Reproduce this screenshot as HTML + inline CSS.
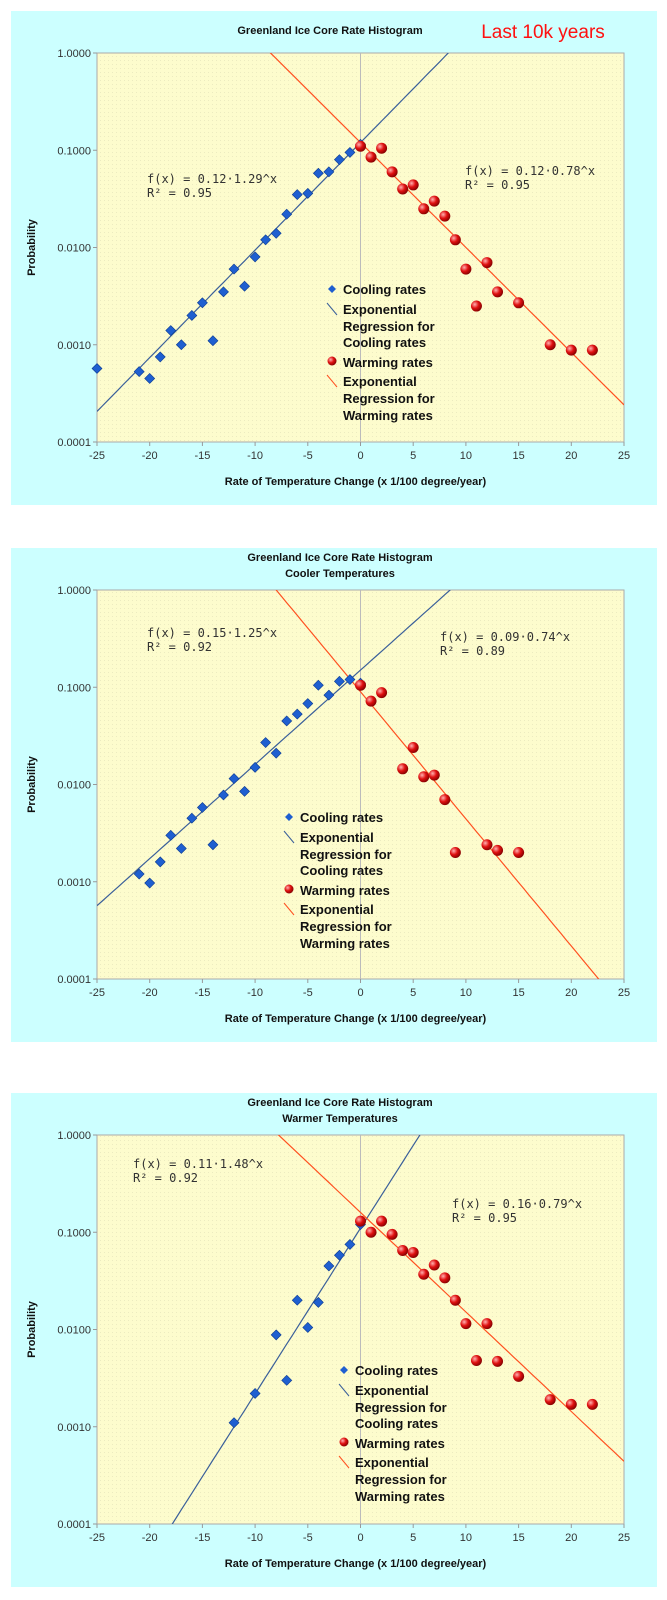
<!DOCTYPE html>
<html><head><meta charset="utf-8">
<style>
body{margin:0;background:#fff;width:667px;height:1600px;overflow:hidden}
svg{display:block}
text{font-family:"Liberation Sans",Arial,sans-serif}
.eq{font-family:"DejaVu Sans Mono","Liberation Mono",monospace;font-size:12px;fill:#333}
.tk{font-size:11px;fill:#333}
.tt{font-size:11px;font-weight:bold;fill:#111}
.lg{font-size:13px;font-weight:bold;fill:#111}
</style></head>
<body>
<svg id="chart" width="667" height="1600" xmlns="http://www.w3.org/2000/svg">
<defs>
<radialGradient id="rg" cx="0.35" cy="0.35" r="0.7"><stop offset="0" stop-color="#ffb0b0"/><stop offset="0.5" stop-color="#e01010"/><stop offset="1" stop-color="#800000"/></radialGradient>
<pattern id="dots" width="4" height="4" patternUnits="userSpaceOnUse"><rect width="4" height="4" fill="#fdfccd"/><rect width="1" height="1" fill="#ecebc0"/></pattern>
</defs>
</svg>
<script>
// Panel 1 data (Last 10k years)
const p1CoolX=[-25,-21,-20,-19,-18,-17,-16,-15,-14,-13,-12,-11,-10,-9,-8,-7,-6,-5,-4,-3,-2,-1,0];
const p1CoolY=[0.00057,0.00053,0.00045,0.00075,0.0014,0.001,0.002,0.0027,0.0011,0.0035,0.006,0.004,0.008,0.012,0.014,0.022,0.035,0.036,0.058,0.06,0.08,0.095,0.115];
const p1WarmX=[0,1,2,3,4,5,6,7,8,9,10,11,12,13,15,18,20,22];
const p1WarmY=[0.11,0.085,0.105,0.06,0.04,0.044,0.025,0.03,0.021,0.012,0.006,0.0025,0.007,0.0035,0.0027,0.001,0.00088,0.00088];
const p1Fit=[0.12,1.29,0.12,0.78];
// Panel 2 data (Cooler temperatures)
const p2CoolX=[-21,-20,-19,-18,-17,-16,-15,-14,-13,-12,-11,-10,-9,-8,-7,-6,-5,-4,-3,-2,-1,0];
const p2CoolY=[0.0012,0.00097,0.0016,0.003,0.0022,0.0045,0.0058,0.0024,0.0078,0.0115,0.0085,0.015,0.027,0.021,0.045,0.053,0.068,0.105,0.083,0.115,0.12,0.11];
const p2WarmX=[0,1,2,4,5,6,7,8,9,12,13,15];
const p2WarmY=[0.105,0.072,0.088,0.0145,0.024,0.012,0.0125,0.007,0.002,0.0024,0.0021,0.002];
const p2Fit=[0.15,1.25,0.09,0.74];
// Panel 3 data (Warmer temperatures)
const p3CoolX=[-12,-10,-8,-7,-6,-5,-4,-3,-2,-1,0];
const p3CoolY=[0.0011,0.0022,0.0088,0.003,0.02,0.0105,0.019,0.045,0.058,0.075,0.12];
const p3WarmX=[0,1,2,3,4,5,6,7,8,9,10,11,12,13,15,18,20,22];
const p3WarmY=[0.13,0.1,0.13,0.095,0.065,0.062,0.037,0.046,0.034,0.02,0.0115,0.0048,0.0115,0.0047,0.0033,0.0019,0.0017,0.0017];
const p3Fit=[0.11,1.48,0.16,0.79];
const xTicks=[-25,-20,-15,-10,-5,0,5,10,15,20,25];
const yTicks=[1,0.1,0.01,0.001,0.0001];
const yTickLabels=["1.0000","0.1000","0.0100","0.0010","0.0001"];

const NS="http://www.w3.org/2000/svg";
const svg=document.getElementById('chart');
function mk(tag,attrs,parent,txt){const e=document.createElementNS(NS,tag);for(const k in attrs)e.setAttribute(k,attrs[k]);if(txt!==undefined)e.textContent=txt;(parent||svg).appendChild(e);return e;}

function panel(o){
  const L=97,R=624,T=o.top+42,B=T+389;
  const xs=v=>L+(v+25)/50*(R-L);
  const ys=p=>T+(-Math.log10(p))/4*(B-T);
  const g=mk('g',{});
  
  
  const bg=mk('rect',{x:11,y:o.top,width:646,height:494,fill:'#ccffff'},g);
  
  
  const pa=mk('rect',{x:L,y:T,width:R-L,height:B-T,fill:'url(#dots)',stroke:'#aaa','stroke-width':1},g);
  
  
  const zl=mk('line',{x1:xs(0),x2:xs(0),y1:T,y2:B,stroke:'#bbb','stroke-width':1},g);
  
  
  // titles
  o.titles.forEach((t,i)=>{
    const e=mk('text',{x:o.titleX,y:o.top+o.titleY+i*16,'text-anchor':'middle',class:'tt'},g,t);
    
    
  });
  // ticks
  xTicks.forEach(v=>{
    mk('line',{x1:xs(v),x2:xs(v),y1:B,y2:B+4,stroke:'#999'},g);
    const e=mk('text',{x:xs(v),y:B+17,'text-anchor':'middle',class:'tk'},g,String(v));
    
    
  });
  yTicks.forEach((v,i)=>{
    mk('line',{x1:L-4,x2:L,y1:ys(v),y2:ys(v),stroke:'#999'},g);
    const e=mk('text',{x:L-6,y:ys(v)+4,'text-anchor':'end',class:'tk'},g,yTickLabels[i]);
    
    
  });
  const xt=mk('text',{x:(L+R)/2-5,y:B+43,'text-anchor':'middle',class:'tt'},g,'Rate of Temperature Change (x 1/100 degree/year)');
  
  
  const yt=mk('text',{x:0,y:0,'text-anchor':'middle',class:'tt',transform:`translate(35,${(T+B)/2}) rotate(-90)`},g,'Probability');
  
  
  // clip
  const cid='clip'+o.top;
  const cp=mk('clipPath',{id:cid},g);mk('rect',{x:L,y:T,width:R-L,height:B-T},cp);
  const fits=[[o.fit[0],o.fit[1],'#3a5f9a','cooling-regression-line'],[o.fit[2],o.fit[3],'#ff5020','warming-regression-line']];
  fits.forEach(f=>{
    let d='';
    for(let x=-25;x<=25.001;x+=0.5){d+=(d?'L':'M')+xs(x).toFixed(1)+','+ys(f[0]*Math.pow(f[1],x)).toFixed(1);}
    const p=mk('path',{d:d,fill:'none',stroke:f[2],'stroke-width':1.2,'clip-path':`url(#${cid})`},g);
    
    
  });
  o.coolX.forEach((x,i)=>{
    const cx=xs(x),cy=ys(o.coolY[i]);
    const p=mk('path',{d:`M${cx},${cy-5}L${cx+5},${cy}L${cx},${cy+5}L${cx-5},${cy}Z`,fill:'#1f5fd0',stroke:'#0a3a90','stroke-width':0.6},g);
    
    
  });
  o.warmX.forEach((x,i)=>{
    const c=mk('circle',{cx:xs(x),cy:ys(o.warmY[i]),r:5.5,fill:'url(#rg)'},g);
    
    
  });
  // equations
  [[o.eqL,o.fit[0],o.fit[1],'cooling-equation'],[o.eqR,o.fit[2],o.fit[3],'warming-equation']].forEach(q=>{
    const e=mk('text',{x:q[0][0],y:q[0][1],class:'eq'},g,`f(x) = ${q[1].toFixed(2)}·${q[2].toFixed(2)}^x`);
    
    
    const r=mk('text',{x:q[0][0],y:q[0][1]+14,class:'eq'},g,'R² = '+q[0][2]);
    
    
  });
  // legend
  const lx=o.leg[0],ly=o.leg[1];
  const lg=mk('g',{},g);
  
  
  const rows=['Cooling rates','Exponential','Regression for','Cooling rates','Warming rates','Exponential','Regression for','Warming rates'];
  const ys2=[0,20,37,53,73,92,109,126];
  rows.forEach((t,i)=>{
    const e=mk('text',{x:lx+11,y:ly+ys2[i]+5,class:'lg'},lg,t);
    
    
  });
  mk('path',{d:`M${lx},${ly-4}L${lx+4},${ly}L${lx},${ly+4}L${lx-4},${ly}Z`,fill:'#1f5fd0'},lg);
  mk('line',{x1:lx-5,y1:ly+14,x2:lx+5,y2:ly+26,stroke:'#3a5f9a'},lg);
  mk('circle',{cx:lx,cy:ly+72,r:4.5,fill:'url(#rg)'},lg);
  mk('line',{x1:lx-5,y1:ly+86,x2:lx+5,y2:ly+98,stroke:'#ff5020'},lg);
}

panel({name:'panel-last-10k-years',top:11,titles:['Greenland Ice Core Rate Histogram'],titleX:330,titleY:23,
  coolX:p1CoolX,coolY:p1CoolY,warmX:p1WarmX,warmY:p1WarmY,fit:p1Fit,
  eqL:[147,183,'0.95'],eqR:[465,175,'0.95'],leg:[332,289]});
panel({name:'panel-cooler-temperatures',top:548,titles:['Greenland Ice Core Rate Histogram','Cooler Temperatures'],titleX:340,titleY:13,
  coolX:p2CoolX,coolY:p2CoolY,warmX:p2WarmX,warmY:p2WarmY,fit:p2Fit,
  eqL:[147,637,'0.92'],eqR:[440,641,'0.89'],leg:[289,817]});
panel({name:'panel-warmer-temperatures',top:1093,titles:['Greenland Ice Core Rate Histogram','Warmer Temperatures'],titleX:340,titleY:13,
  coolX:p3CoolX,coolY:p3CoolY,warmX:p3WarmX,warmY:p3WarmY,fit:p3Fit,
  eqL:[133,1168,'0.92'],eqR:[452,1208,'0.95'],leg:[344,1370]});

const lk=mk('text',{x:543,y:38,'text-anchor':'middle','font-size':'19px',fill:'#ff1010'},svg,'Last 10k years');


</script>
</body></html>
